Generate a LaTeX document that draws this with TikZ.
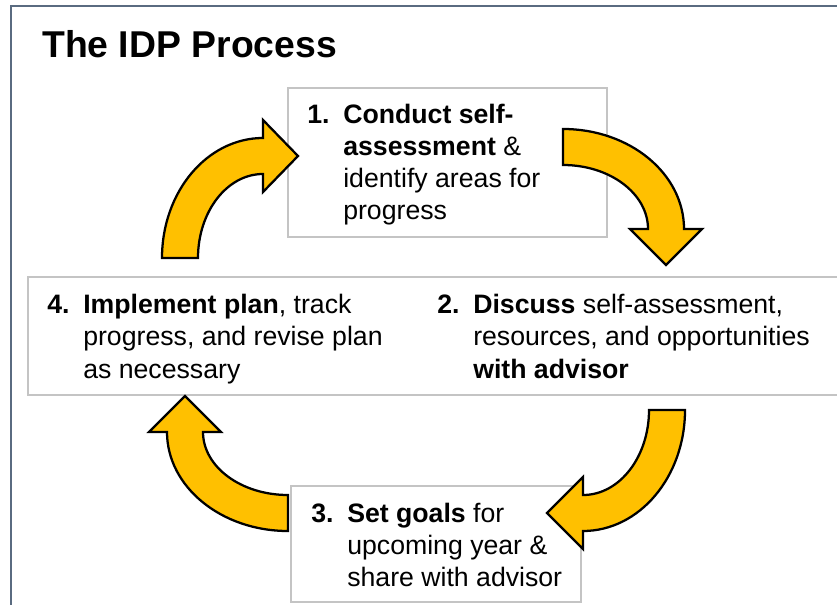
\documentclass[tikz,border=0pt]{standalone}
\usepackage{fontspec}
\setmainfont{Liberation Sans}
\usetikzlibrary{fit}
\definecolor{gold}{HTML}{FFC000}
\definecolor{framec}{HTML}{5A6B80}
\definecolor{boxc}{HTML}{C4C4C4}
\tikzset{
  boxstyle/.style={draw=boxc, line width=0.9pt, fill=white, inner sep=0pt},
  arrowshape/.style={fill=gold, draw=black, line width=1.7pt, line join=miter},
  stepnote/.style={anchor=base west, inner sep=0pt, font=\fontsize{20}{24}\selectfont},
}
\newcommand{\numlbl}[1]{\makebox[27pt][l]{\textbf{#1}}}
\begin{document}
\begin{tikzpicture}[x=0.75pt,y=-0.75pt]
\useasboundingbox (0,0) rectangle (837,605);
\begin{scope}
\clip (0,0) rectangle (837,605);
% outer frame
\draw[framec, line width=1.5pt] (11,640) -- (11,6) -- (880,6);
% boxes
\coordinate (b1nw) at (288,88);  \coordinate (b1se) at (607,237);
\coordinate (b2nw) at (28,277);  \coordinate (b2se) at (880,395);
\coordinate (b3nw) at (291,486); \coordinate (b3se) at (581,602);
\node[boxstyle, fit=(b1nw)(b1se)] (box1) {};
\node[boxstyle, fit=(b2nw)(b2se)] (box2) {};
\node[boxstyle, fit=(b3nw)(b3se)] (box3) {};
% arrow 1 (4 -> 1)
\draw[arrowshape] (162,258) arc[start angle=180, end angle=270, x radius=101, y radius=120]
  -- (263,120) -- (298,156) -- (263,192) -- (263,174)
  arc[start angle=270, end angle=180, x radius=65, y radius=84] -- cycle;
% arrow 2 (1 -> 2)
\draw[arrowshape] (563,129) arc[start angle=270, end angle=360, x radius=121, y radius=100]
  -- (702,229) -- (666,265) -- (630,229) -- (648,229)
  arc[start angle=360, end angle=270, x radius=85, y radius=64] -- cycle;
% arrow 3 (2 -> 3)
\draw[arrowshape] (685,410) arc[start angle=0, end angle=90, x radius=102, y radius=121]
  -- (583,549) -- (547,513) -- (583,477) -- (583,495)
  arc[start angle=90, end angle=0, x radius=66, y radius=85] -- cycle;
% arrow 4 (3 -> 4)
\draw[arrowshape] (288,531) arc[start angle=90, end angle=180, x radius=121, y radius=99]
  -- (149,432) -- (185,396) -- (221,432) -- (203,432)
  arc[start angle=180, end angle=90, x radius=85, y radius=63] -- cycle;
\end{scope}
% title
\node[anchor=base west, inner sep=0pt, font=\fontsize{28}{34}\selectfont\bfseries] (title) at (42,58) {The IDP Process};
% texts
\node[stepnote] (t1) at (307,124) {\begin{tabular}[t]{@{}l@{}}
\numlbl{1.}\textbf{Conduct self-}\\
\numlbl{}\textbf{assessment} \&\\
\numlbl{}identify areas for\\
\numlbl{}progress\end{tabular}};
\node[stepnote] (t4) at (47,314) {\begin{tabular}[t]{@{}l@{}}
\numlbl{4.}\textbf{Implement plan}, track\\
\numlbl{}progress, and revise plan\\
\numlbl{}as necessary\end{tabular}};
\node[stepnote] (t2) at (437,314) {\begin{tabular}[t]{@{}l@{}}
\numlbl{2.}\textbf{Discuss} self-assessment,\\
\numlbl{}resources, and opportunities\\
\numlbl{}\textbf{with advisor}\end{tabular}};
\node[stepnote] (t3) at (311,522) {\begin{tabular}[t]{@{}l@{}}
\numlbl{3.}\textbf{Set goals} for\\
\numlbl{}upcoming year \&\\
\numlbl{}share with advisor\end{tabular}};
\end{tikzpicture}
\end{document}
